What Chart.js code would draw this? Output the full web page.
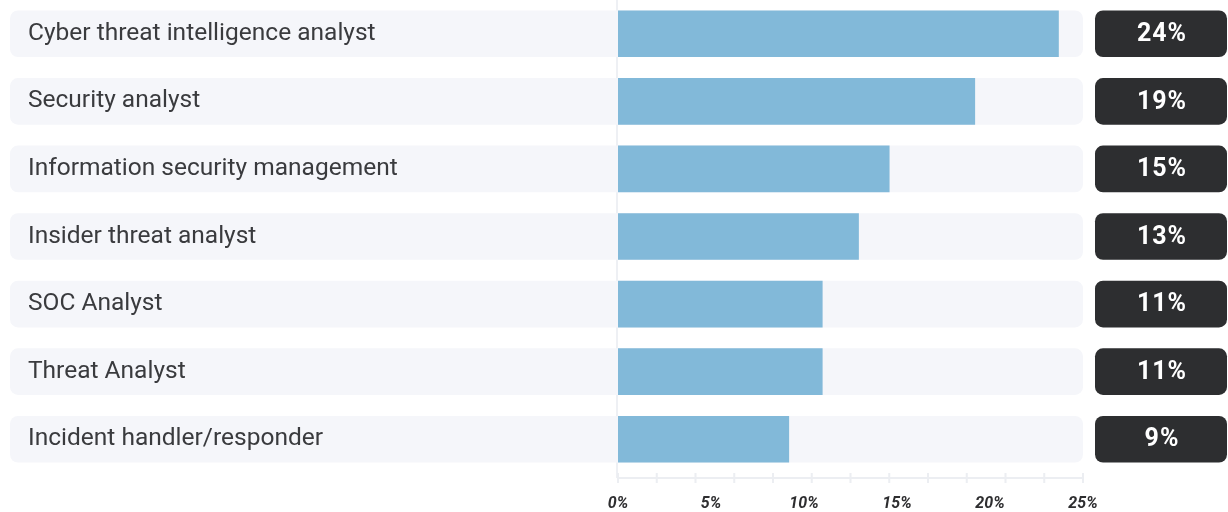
<!DOCTYPE html>
<html>
<head>
<meta charset="utf-8">
<script src="https://cdn.jsdelivr.net/npm/chart.js@4/dist/chart.umd.min.js"></script>
<style>
  html, body { margin: 0; padding: 0; background: #ffffff; }
  #wrap { width: 1228px; height: 512px; position: relative; }
</style>
</head>
<body>
<div id="wrap"><canvas id="c" width="1228" height="512"></canvas></div>
<script>
// ---- data ----
const categories = [
  "Cyber threat intelligence analyst",
  "Security analyst",
  "Information security management",
  "Insider threat analyst",
  "SOC Analyst",
  "Threat Analyst",
  "Incident handler/responder"
];
const values = [23.7, 19.2, 14.6, 12.95, 11.0, 11.0, 9.2];
const axisMin = 0;
const axisMax = 25;
const tickStep = 5;
const minorDivisions = 12;

// ---- styles ----
const rowBg = "#f5f6fa";
const barColor = "#82b9d9";
const boxColor = "#2d2e30";
const textColor = "#3a3b3e";

const rowPlugin = {
  id: "rows",
  beforeDraw(chart) {
    const { ctx, chartArea } = chart;
    const xs = chart.scales.x;
    const meta = chart.getDatasetMeta(0);
    ctx.save();
    // zero line
    const x0 = xs.getPixelForValue(axisMin);
    ctx.strokeStyle = "#eef0f4";
    ctx.lineWidth = 2;
    ctx.beginPath();
    ctx.moveTo(x0 - 1, chartArea.top);
    ctx.lineTo(x0 - 1, chartArea.bottom + 5);
    ctx.stroke();
    // row backgrounds
    ctx.fillStyle = rowBg;
    meta.data.forEach(bar => {
      const h = bar.height;
      ctx.beginPath();
      ctx.roundRect(10, bar.y - h / 2, chartArea.right - 10, h, 8);
      ctx.fill();
    });
    ctx.restore();
  },
  afterDatasetsDraw(chart) {
    const { ctx, chartArea, width } = chart;
    const meta = chart.getDatasetMeta(0);
    ctx.save();
    meta.data.forEach((bar, i) => {
      const h = bar.height;
      const x0 = chartArea.right + 12;
      ctx.fillStyle = boxColor;
      ctx.beginPath();
      ctx.roundRect(x0, bar.y - h / 2, width - 1 - x0, h, 8);
      ctx.fill();
      ctx.fillStyle = "#ffffff";
      ctx.font = "bold 25px Roboto";
      if ('letterSpacing' in ctx) ctx.letterSpacing = "1px";
      ctx.textAlign = "center";
      ctx.textBaseline = "middle";
      ctx.fillText(Math.round(values[i]) + "%", (x0 + width - 1) / 2 + 1, bar.y + 1);
    });
    ctx.restore();
  },
  afterDraw(chart) {
    const { ctx, chartArea } = chart;
    const xs = chart.scales.x;
    const y = chartArea.bottom + 5;
    ctx.save();
    ctx.strokeStyle = "#eceef2";
    ctx.lineWidth = 2;
    ctx.beginPath();
    ctx.moveTo(xs.getPixelForValue(axisMin), y);
    ctx.lineTo(xs.getPixelForValue(axisMax), y);
    for (let k = 0; k <= minorDivisions; k++) {
      const px = xs.getPixelForValue(axisMin + (axisMax - axisMin) * k / minorDivisions);
      ctx.moveTo(px, y - 5);
      ctx.lineTo(px, y + 5);
    }
    ctx.stroke();
    ctx.restore();
  }
};

new Chart(document.getElementById("c"), {
  type: "bar",
  data: {
    labels: categories,
    datasets: [{
      data: values,
      backgroundColor: barColor,
      borderWidth: 0,
      barPercentage: 0.69,
      categoryPercentage: 1
    }]
  },
  options: {
    indexAxis: "y",
    responsive: false,
    animation: false,
    devicePixelRatio: 1,
    layout: { padding: { left: 28, right: 145, top: 0, bottom: 0 } },
    plugins: { legend: { display: false }, tooltip: { enabled: false } },
    scales: {
      x: {
        min: axisMin,
        max: axisMax,
        border: { display: false },
        grid: { display: false, drawTicks: false },
        afterFit: s => { s.paddingLeft = 0; s.paddingRight = 0; s.height = 39; },
        ticks: {
          stepSize: tickStep,
          padding: 21,
          color: "#2e2e30",
          font: { family: "Roboto", size: 16, style: "italic", weight: "bold" },
          callback: v => v + "%"
        }
      },
      y: {
        border: { display: false },
        grid: { display: false, drawTicks: false },
        afterFit: s => { s.width = 590; s.paddingTop = 0; s.paddingBottom = 0; },
        ticks: {
          crossAlign: "far",
          color: textColor,
          font: { family: "Roboto", size: 24.5 }
        }
      }
    }
  },
  plugins: [rowPlugin]
});
</script>
</body>
</html>
